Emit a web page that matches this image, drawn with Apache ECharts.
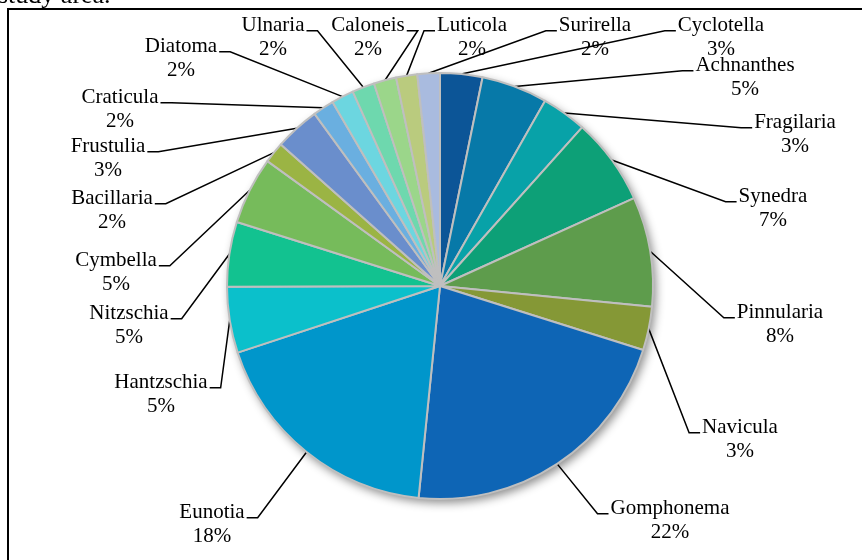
<!DOCTYPE html>
<html>
<head>
<meta charset="utf-8">
<script src="https://cdn.jsdelivr.net/npm/echarts@6/dist/echarts.min.js"></script>
<style>
html,body{margin:0;padding:0;background:#fff;}
#chart{width:862px;height:560px;}
</style>
</head>
<body>
<div id="chart"></div>
<script>
// Genera, clockwise from 12 o'clock
const genera = ['Cyclotella','Achnanthes','Fragilaria','Synedra','Pinnularia','Navicula','Gomphonema','Eunotia','Hantzschia','Nitzschia','Cymbella','Bacillaria','Frustulia','Craticula','Diatoma','Ulnaria','Caloneis','Luticola','Surirella'];
// Relative abundance (%)
const abundance = [3.2, 5.0, 3.4, 6.6, 8.3, 3.3, 21.7, 18.3, 5.0, 4.9, 5.1, 1.6, 3.4, 1.6, 1.7, 1.7, 1.7, 1.6, 1.7];
const colors = ['#0C5597','#0779A8','#08A2A8','#0DA077','#5E9C4C','#859836','#0E65B5','#0096CB','#0BC0CB','#12C290','#76BB5B','#9BB444','#6A8ECC','#6AAFE0','#6CD6E0','#6ED8AE','#9BD68A','#BACB7E','#A9BBDF'];
// label block centres (layout only)
const labelPos = [[721,37],[745,77],[795,134],[773,208],[780,324],[740,439],[670,520],[212,524],[161,394],[129,325],[116,272],[112,210],[108,158],[120,109],[181,58],[273,37],[368,37],[472,37],[595,37]];

const total = abundance.reduce((a,b)=>a+b,0);
const pieCenter = [440, 286];
const chart = echarts.init(document.getElementById('chart'), null, {renderer:'canvas'});
const font = '"Liberation Serif","Times New Roman",serif';

chart.setOption({
  animation:false,
  backgroundColor:'#fff',
  graphic:[
    {type:'rect', shape:{x:8,y:9,width:900,height:600}, style:{fill:'none',stroke:'#000',lineWidth:2}, z:0},
    {type:'text', left:-2, top:-17, style:{text:'study area.', font:'26px "Liberation Serif"', fill:'#000'}}
  ],
  series:[
    {
      type:'pie', silent:true, center:pieCenter, radius:213, z:1,
      label:{show:false}, labelLine:{show:false},
      itemStyle:{color:'#BFBFBF', shadowBlur:10, shadowOffsetX:3, shadowOffsetY:4, shadowColor:'rgba(0,0,0,0.45)'},
      data:[{value:total, name:'bg'}]
    },
    {
      type:'pie', center:pieCenter, radius:213, startAngle:90, clockwise:true, z:2,
      avoidLabelOverlap:false,
      itemStyle:{borderColor:'#BFBFBF', borderWidth:2},
      label:{
        show:true, position:'outside', color:'#000', fontFamily:font, fontSize:21, lineHeight:24, align:'center',
        formatter:function(p){ return p.name + '\n' + Math.round(p.value/total*100) + '%'; }
      },
      labelLine:{show:true, length:15, length2:10, lineStyle:{color:'#000', width:1.5}},
      labelLayout:function(p){
        const q = labelPos[p.dataIndex];
        const w = p.labelRect.width, h = p.labelRect.height;
        const anchor = p.labelLinePoints ? p.labelLinePoints[0] : null;
        const out = {x:q[0], y:q[1], align:'center', verticalAlign:'middle'};
        if (anchor) {
          const ay = q[1] - h/2 + h*0.37;
          const rightSide = q[0] > pieCenter[0];
          const ex = rightSide ? q[0] - w/2 - 2 : q[0] + w/2 + 2;
          const mx = rightSide ? ex - 11 : ex + 11;
          out.labelLinePoints = [anchor, [mx, ay], [ex, ay]];
        }
        return out;
      },
      data: genera.map((g,i)=>({name:g, value:abundance[i], itemStyle:{color:colors[i]}}))
    }
  ]
});
</script>
</body>
</html>
